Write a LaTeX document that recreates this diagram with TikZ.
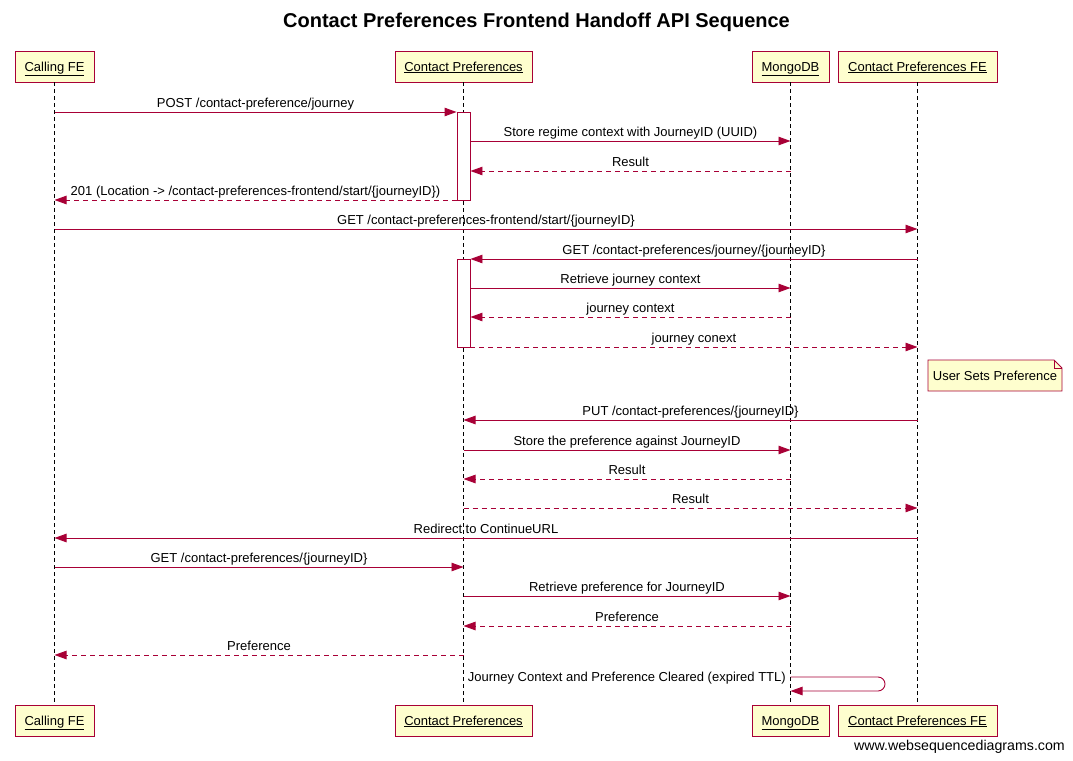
\documentclass[tikz,border=0pt]{standalone}
\usepackage{fontspec}
\setmainfont{Liberation Sans}
\usetikzlibrary{arrows.meta,shapes.misc}
\definecolor{lc}{HTML}{A80036}
\definecolor{pfill}{HTML}{FEFECE}
\begin{document}
\begin{tikzpicture}[x=1pt,y=-1pt,
  part/.style={draw=lc, fill=pfill, line width=0.9pt, minimum height=31pt, inner xsep=0pt, inner ysep=0pt, text height=9pt, text depth=0pt, font=\fontsize{13}{15}\selectfont},
  msg/.style={draw=lc, line width=0.9pt, -{Triangle[length=12pt,width=8.5pt]}},
  ret/.style={msg, dash pattern=on 5pt off 4pt},
  lbl/.style={font=\fontsize{13}{15}\selectfont, inner sep=0pt, anchor=base, yshift=4.5pt},
  life/.style={draw=black, dash pattern=on 4pt off 3pt, line width=0.8pt},
  act/.style={draw=lc, fill=white, line width=0.9pt, minimum width=13pt, inner sep=0pt},
  notebox/.style={draw=lc, fill=pfill, line width=0.9pt}
]
\useasboundingbox (0,0) rectangle (1073,760);
\node[font=\bfseries\fontsize{20}{24}\selectfont] (title) at (536.5,22.5) {Contact Preferences Frontend Handoff API Sequence};
% participants
\node[part, minimum width=79pt] (cfeT) at (54.5,66.5) {\underline{Calling FE}};
\node[part, minimum width=137pt] (cpT) at (463.5,66.5) {\underline{Contact Preferences}};
\node[part, minimum width=77pt] (mdbT) at (790.5,66.5) {\underline{MongoDB}};
\node[part, minimum width=159pt] (cpfeT) at (917.5,66.5) {\underline{Contact Preferences FE}};
\node[part, minimum width=79pt] (cfeB) at (54.5,720.5) {\underline{Calling FE}};
\node[part, minimum width=137pt] (cpB) at (463.5,720.5) {\underline{Contact Preferences}};
\node[part, minimum width=77pt] (mdbB) at (790.5,720.5) {\underline{MongoDB}};
\node[part, minimum width=159pt] (cpfeB) at (917.5,720.5) {\underline{Contact Preferences FE}};
% lifelines
\draw[life] (cfeT.south) -- (cfeB.north);
\draw[life] (cpT.south) -- (cpB.north);
\draw[life] (mdbT.south) -- (mdbB.north);
\draw[life] (cpfeT.south) -- (cpfeB.north);
% activations
\node[act, minimum height=88pt] (act1) at (463.5,156) {};
\node[act, minimum height=88pt] (act2) at (463.5,303) {};
% messages
\draw[msg] (cfeT |- 0,112) -- node[lbl]{POST /contact-preference/journey} (act1.west |- 0,112);
\draw[msg] (act1.east |- 0,141) -- node[lbl]{Store regime context with JourneyID (UUID)} (mdbT |- 0,141);
\draw[ret] (mdbT |- 0,171) -- node[lbl]{Result} (act1.east |- 0,171);
\draw[ret] (act1.west |- 0,200) -- node[lbl]{201 (Location -> /contact-preferences-frontend/start/\{journeyID\})} (cfeT |- 0,200);
\draw[msg] (cfeT |- 0,229) -- node[lbl]{GET /contact-preferences-frontend/start/\{journeyID\}} (cpfeT |- 0,229);
\draw[msg] (cpfeT |- 0,259) -- node[lbl]{GET /contact-preferences/journey/\{journeyID\}} (act2.east |- 0,259);
\draw[msg] (act2.east |- 0,288) -- node[lbl]{Retrieve journey context} (mdbT |- 0,288);
\draw[ret] (mdbT |- 0,317) -- node[lbl]{journey context} (act2.east |- 0,317);
\draw[ret] (act2.east |- 0,347) -- node[lbl]{journey conext} (cpfeT |- 0,347);
% note
\draw[notebox] (928,360) -- (1054,360) -- (1062,368) -- (1062,391) -- (928,391) -- cycle;
\draw[lc, line width=0.9pt] (1054,360) -- (1054,368) -- (1062,368);
\node[font=\fontsize{13}{15}\selectfont, inner sep=0pt] (note) at (995,376) {User Sets Preference};
\draw[msg] (cpfeT |- 0,420) -- node[lbl]{PUT /contact-preferences/\{journeyID\}} (cpT |- 0,420);
\draw[msg] (cpT |- 0,450) -- node[lbl]{Store the preference against JourneyID} (mdbT |- 0,450);
\draw[ret] (mdbT |- 0,479) -- node[lbl]{Result} (cpT |- 0,479);
\draw[ret] (cpT |- 0,508) -- node[lbl]{Result} (cpfeT |- 0,508);
\draw[msg] (cpfeT |- 0,538) -- node[lbl]{Redirect to ContinueURL} (cfeT |- 0,538);
\draw[msg] (cfeT |- 0,567) -- node[lbl]{GET /contact-preferences/\{journeyID\}} (cpT |- 0,567);
\draw[msg] (cpT |- 0,596) -- node[lbl]{Retrieve preference for JourneyID} (mdbT |- 0,596);
\draw[ret] (mdbT |- 0,626) -- node[lbl]{Preference} (cpT |- 0,626);
\draw[ret] (cpT |- 0,655) -- node[lbl]{Preference} (cfeT |- 0,655);
% self message
\draw[msg, rounded corners=7pt] (mdbT |- 0,677) -- (885,677) -- (885,691) -- (mdbT |- 0,691);
\node[font=\fontsize{13}{15}\selectfont, inner sep=0pt, anchor=base east] (selflbl) at (786,681.5) {Journey Context and Preference Cleared (expired TTL)};
\node[font=\fontsize{14.2}{17}\selectfont, inner sep=0pt, anchor=base east] (footer) at (1065,750) {www.websequencediagrams.com};
\end{tikzpicture}
\end{document}
